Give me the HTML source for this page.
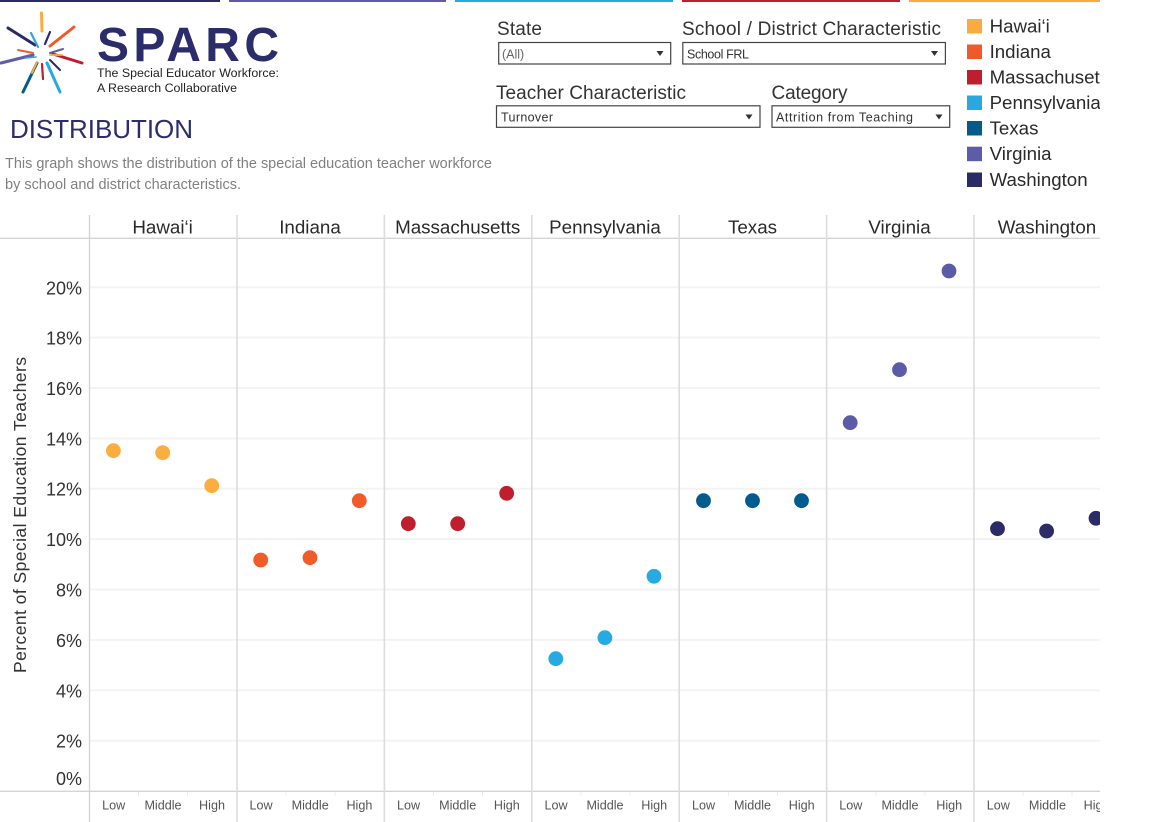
<!DOCTYPE html>
<html><head><meta charset="utf-8"><style>
html,body{margin:0;padding:0;background:#fff;}
body{width:1168px;height:822px;overflow:hidden;}
svg{display:block;font-family:"Liberation Sans",sans-serif;}
</style></head><body>
<svg width="1168" height="822" viewBox="0 0 1168 822" xmlns="http://www.w3.org/2000/svg">
<defs><clipPath id="c"><rect x="0" y="0" width="1100" height="822"/></clipPath></defs>
<rect width="1168" height="822" fill="#fff"/>
<!-- top bars -->
<rect x="0" y="0" width="220" height="2" fill="#2a2a64"/>
<rect x="229" y="0" width="217" height="2" fill="#5d5ca8"/>
<rect x="455" y="0" width="218" height="2" fill="#29a8e0"/>
<rect x="682" y="0" width="218" height="2" fill="#be1e2d"/>
<rect x="909" y="0" width="191" height="2" fill="#f9ab3f"/>
<!-- logo starburst -->
<g stroke-linecap="round" fill="none">
<line x1="41.5" y1="13" x2="42" y2="31" stroke="#f9ab3f" stroke-width="3"/>
<line x1="8" y1="28" x2="35" y2="45" stroke="#2a2a64" stroke-width="3"/>
<line x1="31" y1="33" x2="38" y2="47" stroke="#29a8e0" stroke-width="2.2"/>
<line x1="50" y1="32" x2="45" y2="44" stroke="#2a2a64" stroke-width="2.2"/>
<line x1="74" y1="27" x2="50" y2="46" stroke="#f05a2a" stroke-width="3"/>
<line x1="63" y1="49" x2="50" y2="53" stroke="#5d5ca8" stroke-width="2"/>
<line x1="82" y1="63" x2="53" y2="54" stroke="#be1e2d" stroke-width="3"/>
<line x1="1" y1="63" x2="33" y2="55" stroke="#5d5ca8" stroke-width="3"/>
<line x1="18" y1="50" x2="33" y2="53" stroke="#f05a2a" stroke-width="2"/>
<line x1="23" y1="92" x2="37" y2="63" stroke="#055a8c" stroke-width="3"/>
<line x1="60" y1="92" x2="47" y2="63" stroke="#29a8e0" stroke-width="3"/>
<line x1="43" y1="79" x2="42" y2="64" stroke="#be1e2d" stroke-width="2.2"/>
<line x1="32" y1="73" x2="37" y2="62" stroke="#f9ab3f" stroke-width="2"/>
<line x1="60" y1="70" x2="50" y2="60" stroke="#2a2a64" stroke-width="2"/>
<line x1="62" y1="55" x2="50" y2="55" stroke="#f9ab3f" stroke-width="1.8"/>
<line x1="26" y1="58" x2="36" y2="57" stroke="#29a8e0" stroke-width="1.6"/>
</g>
<text x="97" y="61" font-size="48" font-weight="bold" fill="#2b2c6a" textLength="182" lengthAdjust="spacing">SPARC</text>
<text x="97" y="77" font-size="12.4" fill="#222" textLength="182">The Special Educator Workforce:</text>
<text x="97" y="92" font-size="12.4" fill="#222" textLength="140">A Research Collaborative</text>
<text x="10" y="138" font-size="26" fill="#2b2d6e" textLength="183">DISTRIBUTION</text>
<text x="5" y="168" font-size="14.5" fill="#808080" textLength="487">This graph shows the distribution of the special education teacher workforce</text>
<text x="5" y="189" font-size="14.5" fill="#808080" textLength="236">by school and district characteristics.</text>
<!-- filters -->
<g fill="#333">
<text x="497" y="35" font-size="19" textLength="45">State</text>
<text x="682" y="35" font-size="19" textLength="259">School / District Characteristic</text>
<text x="496" y="99" font-size="19" textLength="190">Teacher Characteristic</text>
<text x="771.5" y="99" font-size="19" textLength="76">Category</text>
</g>
<g fill="#fff" stroke="#444" stroke-width="1.2">
<rect x="498.7" y="42.5" width="172" height="21.5"/>
<rect x="682.8" y="42.5" width="262.6" height="21.5"/>
<rect x="496.5" y="105.8" width="263.5" height="21.5"/>
<rect x="772" y="105.8" width="177.7" height="21.5"/>
</g>
<g font-size="12.5">
<text x="502" y="58.5" fill="#666">(All)</text>
<text x="687" y="58.5" fill="#333" textLength="62">School FRL</text>
<text x="501" y="121.5" fill="#333" textLength="52">Turnover</text>
<text x="776" y="121.5" fill="#333" textLength="137">Attrition from Teaching</text>
</g>
<g fill="#333">
<polygon points="656.5,51 663.5,51 660,56"/>
<polygon points="931,51 938,51 934.5,56"/>
<polygon points="745.5,114.5 752.5,114.5 749,119.5"/>
<polygon points="935.5,114.5 942.5,114.5 939,119.5"/>
</g>
<!-- legend -->
<g clip-path="url(#c)" font-size="18.7" fill="#2a2a2a">
<rect x="967" y="19" width="15" height="14.5" fill="#f9ab3f"/><text x="989.6" y="32.5">Hawai‘i</text>
<rect x="967" y="44.5" width="15" height="14.5" fill="#f05a2a"/><text x="989.6" y="58">Indiana</text>
<rect x="967" y="70" width="15" height="14.5" fill="#be1e2d"/><text x="989.6" y="83.5">Massachusetts</text>
<rect x="967" y="95.5" width="15" height="14.5" fill="#29a8e0"/><text x="989.6" y="109">Pennsylvania</text>
<rect x="967" y="121" width="15" height="14.5" fill="#055a8c"/><text x="989.6" y="134.5">Texas</text>
<rect x="967" y="146.7" width="15" height="14.5" fill="#5d5ca8"/><text x="989.6" y="160.2">Virginia</text>
<rect x="967" y="172.5" width="15" height="14.5" fill="#2a2a64"/><text x="989.6" y="186">Washington</text>
</g>
<!-- chart -->
<g clip-path="url(#c)">
<g stroke="#f3f3f3" stroke-width="2">
<line x1="90" y1="287.3" x2="1100" y2="287.3"/>
<line x1="90" y1="337.6" x2="1100" y2="337.6"/>
<line x1="90" y1="388" x2="1100" y2="388"/>
<line x1="90" y1="438.4" x2="1100" y2="438.4"/>
<line x1="90" y1="488.7" x2="1100" y2="488.7"/>
<line x1="90" y1="539.1" x2="1100" y2="539.1"/>
<line x1="90" y1="589.5" x2="1100" y2="589.5"/>
<line x1="90" y1="639.9" x2="1100" y2="639.9"/>
<line x1="90" y1="690.3" x2="1100" y2="690.3"/>
<line x1="90" y1="740.7" x2="1100" y2="740.7"/>
</g>
<line x1="0" y1="238.3" x2="1100" y2="238.3" stroke="#d4d4d4" stroke-width="1.3"/>
<line x1="0" y1="791.3" x2="1100" y2="791.3" stroke="#d4d4d4" stroke-width="1.3"/>
<g stroke="#dcdcdc" stroke-width="1.6">
<line x1="89.5" y1="215" x2="89.5" y2="822" stroke="#d2d2d2" stroke-width="1.3"/>
<line x1="237" y1="215" x2="237" y2="822"/>
<line x1="384.4" y1="215" x2="384.4" y2="822"/>
<line x1="531.8" y1="215" x2="531.8" y2="822"/>
<line x1="679.2" y1="215" x2="679.2" y2="822"/>
<line x1="826.6" y1="215" x2="826.6" y2="822"/>
<line x1="974" y1="215" x2="974" y2="822"/>
</g>
<g stroke="#ececec" stroke-width="1">
<line x1="138.5" y1="792" x2="138.5" y2="796"/><line x1="187.5" y1="792" x2="187.5" y2="796"/>
<line x1="286" y1="792" x2="286" y2="796"/><line x1="335" y1="792" x2="335" y2="796"/>
<line x1="433.5" y1="792" x2="433.5" y2="796"/><line x1="482.5" y1="792" x2="482.5" y2="796"/>
<line x1="581" y1="792" x2="581" y2="796"/><line x1="630" y1="792" x2="630" y2="796"/>
<line x1="728.5" y1="792" x2="728.5" y2="796"/><line x1="777.5" y1="792" x2="777.5" y2="796"/>
<line x1="876" y1="792" x2="876" y2="796"/><line x1="925" y1="792" x2="925" y2="796"/>
<line x1="1023" y1="792" x2="1023" y2="796"/><line x1="1072" y1="792" x2="1072" y2="796"/>
</g>
<g font-size="18.8" fill="#2a2a2a" text-anchor="middle">
<text x="162.6" y="233.5">Hawai‘i</text>
<text x="310" y="233.5">Indiana</text>
<text x="457.7" y="233.5">Massachusetts</text>
<text x="605" y="233.5">Pennsylvania</text>
<text x="752.5" y="233.5">Texas</text>
<text x="899.5" y="233.5">Virginia</text>
<text x="1047" y="233.5">Washington</text>
</g>
<g font-size="18" fill="#333" text-anchor="end">
<text x="82" y="294.3">20%</text>
<text x="82" y="344.6">18%</text>
<text x="82" y="395">16%</text>
<text x="82" y="445.4">14%</text>
<text x="82" y="495.7">12%</text>
<text x="82" y="546.1">10%</text>
<text x="82" y="596.5">8%</text>
<text x="82" y="646.9">6%</text>
<text x="82" y="697.3">4%</text>
<text x="82" y="747.7">2%</text>
<text x="82" y="785">0%</text>
</g>
<text transform="translate(26,515) rotate(-90)" font-size="17.5" fill="#333" text-anchor="middle" textLength="316">Percent of Special Education Teachers</text>
<g font-size="12.6" fill="#555" text-anchor="middle">
<text x="113.7" y="809.3">Low</text><text x="163" y="809.3">Middle</text><text x="212" y="809.3">High</text>
<text x="261" y="809.3">Low</text><text x="310.2" y="809.3">Middle</text><text x="359.4" y="809.3">High</text>
<text x="408.5" y="809.3">Low</text><text x="457.7" y="809.3">Middle</text><text x="506.8" y="809.3">High</text>
<text x="556" y="809.3">Low</text><text x="605" y="809.3">Middle</text><text x="654.2" y="809.3">High</text>
<text x="703.5" y="809.3">Low</text><text x="752.5" y="809.3">Middle</text><text x="801.7" y="809.3">High</text>
<text x="850.8" y="809.3">Low</text><text x="900" y="809.3">Middle</text><text x="949.2" y="809.3">High</text>
<text x="998.3" y="809.3">Low</text><text x="1047.4" y="809.3">Middle</text><text x="1096.6" y="809.3">High</text>
</g>
<g>
<circle cx="113.4" cy="450.7" r="7.4" fill="#fbae40"/>
<circle cx="162.7" cy="452.7" r="7.4" fill="#fbae40"/>
<circle cx="211.7" cy="485.7" r="7.4" fill="#fbae40"/>
<circle cx="260.7" cy="560" r="7.4" fill="#f15a29"/>
<circle cx="310" cy="557.7" r="7.4" fill="#f15a29"/>
<circle cx="359.3" cy="500.7" r="7.4" fill="#f15a29"/>
<circle cx="408.3" cy="523.7" r="7.4" fill="#be1e2d"/>
<circle cx="457.7" cy="523.7" r="7.4" fill="#be1e2d"/>
<circle cx="506.7" cy="493.3" r="7.4" fill="#be1e2d"/>
<circle cx="555.8" cy="658.7" r="7.4" fill="#27aae1"/>
<circle cx="604.9" cy="637.7" r="7.4" fill="#27aae1"/>
<circle cx="654" cy="576.3" r="7.4" fill="#27aae1"/>
<circle cx="703.5" cy="500.7" r="7.4" fill="#005b8f"/>
<circle cx="752.5" cy="500.7" r="7.4" fill="#005b8f"/>
<circle cx="801.5" cy="500.7" r="7.4" fill="#005b8f"/>
<circle cx="850.2" cy="422.7" r="7.4" fill="#5b5ba8"/>
<circle cx="899.5" cy="369.7" r="7.4" fill="#5b5ba8"/>
<circle cx="949" cy="271" r="7.4" fill="#5b5ba8"/>
<circle cx="997.5" cy="528.7" r="7.4" fill="#2b2b69"/>
<circle cx="1046.6" cy="531" r="7.4" fill="#2b2b69"/>
<circle cx="1096" cy="518.3" r="7.4" fill="#2b2b69"/>
</g>
</g>
</svg>
</body></html>
